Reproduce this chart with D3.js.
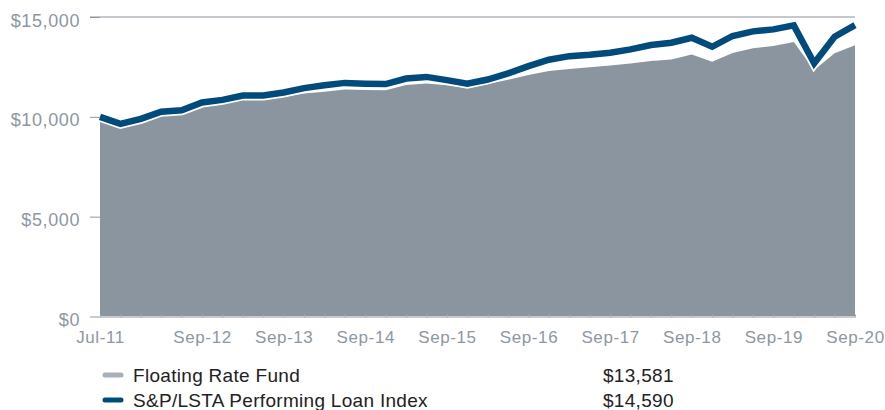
<!DOCTYPE html>
<html>
<head>
<meta charset="utf-8">
<script src="https://cdn.jsdelivr.net/npm/d3@7"></script>
<style>
  html, body { margin: 0; padding: 0; background: #fff; }
  svg { display: block; font-family: "Liberation Sans", Arial, sans-serif; }
</style>
</head>
<body>
<svg id="chart" width="885" height="410"></svg>
<script>
// Growth of $10,000, quarterly observations
const periods = [
  "Jul-11", "Sep-11", "Dec-11",
  "Mar-12", "Jun-12", "Sep-12", "Dec-12",
  "Mar-13", "Jun-13", "Sep-13", "Dec-13",
  "Mar-14", "Jun-14", "Sep-14", "Dec-14",
  "Mar-15", "Jun-15", "Sep-15", "Dec-15",
  "Mar-16", "Jun-16", "Sep-16", "Dec-16",
  "Mar-17", "Jun-17", "Sep-17", "Dec-17",
  "Mar-18", "Jun-18", "Sep-18", "Dec-18",
  "Mar-19", "Jun-19", "Sep-19", "Dec-19",
  "Mar-20", "Jun-20", "Sep-20"
];
const fundValues = [
  10000, 9560, 9800,
  10130, 10190, 10560, 10680,
  10900, 10920, 11010, 11170,
  11260, 11370, 11340, 11330,
  11590, 11670, 11580, 11440,
  11650, 11860, 12090, 12300,
  12400, 12480, 12570, 12670,
  12800, 12870, 13120, 12760,
  13200, 13430, 13550, 13750,
  12340, 13180, 13581
];
const indexValues = [
  10000, 9650, 9900,
  10260, 10330, 10720, 10850,
  11070, 11070, 11220, 11440,
  11580, 11700, 11660, 11640,
  11920, 12000, 11840, 11660,
  11870, 12180, 12540, 12860,
  13040, 13110, 13210, 13380,
  13600, 13710, 13960, 13510,
  14050, 14280, 14380, 14580,
  12680, 14010, 14590
];
const xTickLabels = ["Jul-11", "Sep-12", "Sep-13", "Sep-14", "Sep-15", "Sep-16", "Sep-17", "Sep-18", "Sep-19", "Sep-20"];
const yTickValues = [0, 5000, 10000, 15000];
const seriesNames = ["Floating Rate Fund", "S&P/LSTA Performing Loan Index"];
const endingValues = ["$13,581", "$14,590"];

const colors = {
  fund: "#8b95a0",
  fundSwatch: "#a9b0b8",
  index: "#004b7c",
  axisText: "#8d97a3",
  grid: "#8a9098",
  legendText: "#222"
};

const svg = d3.select("#chart");

const x = d3.scalePoint().domain(periods).range([100, 855]);
const y = d3.scaleLinear().domain([0, 15000]).range([316.5, 17]);

const rows = periods.map((p, i) => ({ p, fund: fundValues[i], idx: indexValues[i] }));

// Fund area
const area = d3.area()
  .x(d => x(d.p))
  .y0(y(0))
  .y1(d => y(d.fund));
svg.append("path")
  .datum(rows)
  .attr("d", area)
  .attr("fill", colors.fund);

// Top gridline at $15,000
svg.append("line")
  .attr("x1", 90).attr("x2", 855)
  .attr("y1", y(15000)).attr("y2", y(15000))
  .attr("stroke", colors.grid)
  .attr("stroke-width", 1);

// Y axis ticks and labels
const yAxis = d3.axisLeft(y)
  .tickValues(yTickValues)
  .tickSize(10)
  .tickPadding(10)
  .tickFormat(d => "$" + d3.format(",")(d));
const yg = svg.append("g")
  .attr("transform", "translate(100,0)")
  .call(yAxis);
yg.select(".domain").remove();
yg.selectAll(".tick line").attr("stroke", colors.axisText);
yg.selectAll(".tick text")
  .attr("fill", colors.axisText)
  .attr("font-size", 18)
  .attr("letter-spacing", 0.6)
  .attr("dy", "0.5em");

// X axis baseline with a tick at every quarter
const xTicks = d3.axisBottom(x).tickSize(-3).tickFormat("");
const xg = svg.append("g")
  .attr("transform", `translate(0,${y(0) + 1})`)
  .call(xTicks);
xg.select(".domain").attr("stroke", "#c9cdd2").attr("d", `M100,0H855`);
xg.selectAll(".tick line").attr("stroke", "#a6adb6");

// X axis labels
const xl = svg.append("g")
  .attr("transform", `translate(0,${y(0) + 1})`)
  .call(d3.axisBottom(x).tickValues(xTickLabels).tickSize(0).tickPadding(13));
xl.select(".domain").remove();
xl.selectAll(".tick text")
  .attr("fill", colors.axisText)
  .attr("font-size", 17)
  .attr("letter-spacing", 0.6);

// Index line with white halo
const line = d3.line()
  .x(d => x(d.p))
  .y(d => y(d.idx));
svg.append("path")
  .datum(rows)
  .attr("d", line)
  .attr("fill", "none")
  .attr("stroke", "#fff")
  .attr("stroke-width", 10)
  .attr("stroke-linejoin", "miter");
svg.append("path")
  .datum(rows)
  .attr("d", line)
  .attr("fill", "none")
  .attr("stroke", colors.index)
  .attr("stroke-width", 6.5)
  .attr("stroke-linejoin", "miter");

// Legend
const legend = svg.append("g");
const legendColors = [colors.fundSwatch, colors.index];
seriesNames.forEach((name, i) => {
  const yy = 375 + i * 25;
  legend.append("line")
    .attr("x1", 105).attr("x2", 121)
    .attr("y1", yy).attr("y2", yy)
    .attr("stroke", legendColors[i])
    .attr("stroke-width", 5)
    .attr("stroke-linecap", "round");
  legend.append("text")
    .attr("x", 133).attr("y", yy + 7)
    .attr("fill", colors.legendText)
    .attr("font-size", 19)
    .attr("letter-spacing", 0.3)
    .text(name);
  legend.append("text")
    .attr("x", 603).attr("y", yy + 7)
    .attr("fill", colors.legendText)
    .attr("font-size", 19)
    .attr("letter-spacing", 0.3)
    .text(endingValues[i]);
});
</script>
</body>
</html>
